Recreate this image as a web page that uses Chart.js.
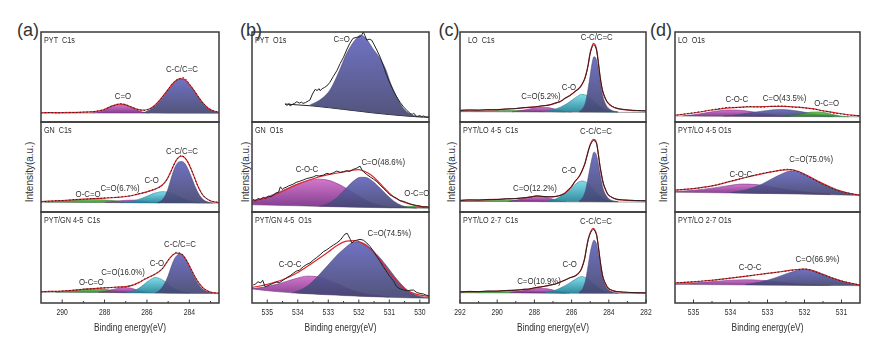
<!DOCTYPE html>
<html>
<head>
<meta charset="utf-8">
<script src="https://cdn.jsdelivr.net/npm/chart.js@4.4.1/dist/chart.umd.min.js"></script>
<style>
  body { margin: 0; background: #fff; width: 882px; height: 354px; position: relative; overflow: hidden;
         font-family: "Liberation Sans", Arial, sans-serif; color: #333; }
  canvas { position: absolute; }
  .letter { position: absolute; font-size: 18px; transform: translate(-50%, -50%); }
  .ytitle { position: absolute; font-size: 10px; white-space: nowrap; transform: translate(-50%, -50%) rotate(-90deg); }
</style>
</head>
<body>
<script>
// ---- (a) C1s : PYT / GN / PYT-GN 4-5   [binding energy eV, intensity a.u.]
const aTopRaw = [[291,10.0],[290.6,10.6],[290.2,10.1],[289.8,10.7],[289.4,10.5],[289,11.0],[288.6,11.2],[288.3,12.3],[288,14],[287.7,17.4],[287.4,19.5],[287.2,20.4],[287,19.2],[286.7,16.4],[286.4,13.8],[286.15,12.8],[285.95,13.9],[285.75,16],[285.55,20],[285.35,25.2],[285.15,31.6],[284.95,37.8],[284.75,43.8],[284.55,47.4],[284.4,48.6],[284.25,49.2],[284.1,45.6],[283.95,40.6],[283.75,34.2],[283.55,27.2],[283.35,21],[283.15,16.4],[282.95,13.2],[282.75,11.5],[282.6,11]];
const aTopFit = [[291,10.3],[290,10.4],[289,10.9],[288.5,11.6],[288.2,12.7],[287.9,15.2],[287.6,18.2],[287.3,19.8],[287.1,19.5],[286.8,17.2],[286.5,14.3],[286.2,13.1],[286,13.6],[285.8,15.6],[285.6,19.2],[285.4,24.2],[285.2,30.2],[285,36.2],[284.8,42.2],[284.6,46.6],[284.45,48],[284.3,47.9],[284.15,45.8],[284,41.8],[283.8,35.8],[283.6,28.8],[283.4,22.3],[283.2,17.3],[283,13.8],[282.8,11.8],[282.6,10.8]];
const aTopBg = [[291,10],[288,10],[285,9.8],[282.6,9.6]];
const aTopCO = [[288.6,10],[288.2,11.8],[287.9,14.5],[287.6,17.5],[287.3,19.3],[287.1,19.2],[286.8,17],[286.5,13.5],[286.2,11],[285.9,10]];
const aTopCC = [[286.2,10],[285.9,13],[285.6,18],[285.4,23],[285.2,29],[285,35.5],[284.8,41.5],[284.6,46],[284.45,47.5],[284.3,47.7],[284.15,45.5],[284,41.5],[283.8,35.5],[283.6,28.5],[283.4,22],[283.2,17],[283,13.5],[282.8,11.5],[282.6,10.5]];

const aMidRaw = [[291,11.3],[290.6,11.9],[290.2,12.7],[289.8,12.9],[289.4,13.9],[289,14.0],[288.6,14.9],[288.2,15.1],[287.8,15.9],[287.4,16.3],[287,17.4],[286.7,18.2],[286.4,20.4],[286.1,21.6],[285.8,24.1],[285.5,26.4],[285.3,29.2],[285.1,34.4],[284.95,40.5],[284.8,48.6],[284.65,56.2],[284.5,60.6],[284.38,62.8],[284.25,61.2],[284.1,56.8],[283.95,49.5],[283.8,40.8],[283.65,31.6],[283.5,24.2],[283.35,18.4],[283.15,14.2],[282.95,12],[282.6,10.6]];
const aMidFit = [[291,11.6],[290,12.8],[289,14.2],[288,15.4],[287.5,16.1],[287,17.2],[286.6,18.9],[286.3,20.6],[286,22.4],[285.7,24.6],[285.45,27.2],[285.25,30.5],[285.05,36.5],[284.9,43.5],[284.75,51.5],[284.6,58.2],[284.45,61.6],[284.35,62],[284.2,59.8],[284.05,54.6],[283.9,46.8],[283.75,37.8],[283.6,29],[283.45,22],[283.3,17],[283.1,13.5],[282.9,11.6],[282.6,10.5]];
const aMidBg = [[291,11],[288,10.5],[285,10],[282.6,9.8]];
const aMidOCO = [[290.8,11],[290,12.2],[289.3,13.2],[288.7,13.8],[288.1,13.5],[287.5,12.5],[286.9,11.2],[286.3,10.3]];
const aMidCO = [[288,10.5],[287.5,11.8],[287,13],[286.6,13.2],[286.2,12.2],[285.8,10.8],[285.4,10.2]];
const aMidCOx = [[287.2,10.2],[286.8,11.5],[286.4,14],[286,17.5],[285.7,20.5],[285.4,22.3],[285.2,22.6],[285,21.8],[284.7,19.5],[284.4,16],[284.1,13],[283.8,11],[283.5,10.2]];
const aMidCC = [[285.5,10.5],[285.3,13],[285.1,20],[284.95,30],[284.8,42],[284.65,51],[284.5,55.5],[284.35,56],[284.2,53.5],[284.05,47],[283.9,38.5],[283.75,29.5],[283.6,22],[283.45,16.5],[283.3,13],[283.1,11],[282.9,10]];

const aBotRaw = [[291,12.2],[290.6,12.8],[290.2,12.7],[289.8,13.6],[289.4,14.1],[289,15.2],[288.6,15.4],[288.2,16.6],[287.8,16.7],[287.4,17.6],[287,17.7],[286.7,19.5],[286.4,22],[286.1,26.6],[285.8,29.2],[285.5,33.8],[285.3,37],[285.1,43.4],[284.95,48.6],[284.8,52.4],[284.65,55.6],[284.5,55.2],[284.35,53.8],[284.2,49.4],[284.05,43.4],[283.9,36.2],[283.75,29.6],[283.55,22],[283.35,16.4],[283.15,13.4],[282.95,11.6],[282.6,10.9]];
const aBotFit = [[291,12.5],[290.5,12.7],[290,13.1],[289.5,13.9],[289,14.9],[288.5,15.9],[288,16.7],[287.5,17.3],[287,18],[286.7,19.3],[286.4,22.4],[286.1,26.1],[285.8,29.6],[285.5,33.2],[285.25,38.4],[285.05,45.2],[284.9,49.8],[284.75,53.2],[284.6,54.7],[284.45,54.3],[284.3,52.2],[284.15,47.4],[284,41],[283.85,34],[283.7,27.4],[283.5,20.4],[283.3,15.5],[283.1,12.9],[282.9,11.4],[282.6,10.8]];
const aBotBg = [[291,12],[288,11.5],[285,10.8],[282.6,10.3]];
const aBotOCO = [[290.3,12],[289.8,13],[289.3,14.5],[288.8,15.7],[288.5,16],[288.1,15.3],[287.6,13.8],[287.1,12.3],[286.7,11.5]];
const aBotCO = [[288.3,11.6],[287.9,13.2],[287.5,15.5],[287.15,17],[286.8,16.5],[286.5,14.5],[286.2,12.5],[285.9,11.3]];
const aBotCOx = [[287,11.2],[286.6,13.5],[286.3,17.5],[286,23],[285.75,27],[285.6,28],[285.4,27],[285.15,23.5],[284.9,18.5],[284.6,14.5],[284.3,12],[284,11]];
const aBotCC = [[285.6,11],[285.4,14],[285.2,20],[285,30],[284.85,40],[284.7,48.5],[284.55,53],[284.44,54],[284.3,52.5],[284.15,47],[284,40],[283.85,32.5],[283.7,25.5],[283.5,18.5],[283.3,14],[283.1,12],[282.9,10.8]];

// ---- (b) O1s : PYT / GN / PYT-GN 4-5
const bTopRaw = [[534.42,20],[534.35,18.5],[534.28,20.5],[534.25,17.8],[534.18,19.5],[534.1,20.8],[534.03,22.6],[533.95,21],[533.88,22],[533.83,20.7],[533.75,21.5],[533.65,23.5],[533.6,24.4],[533.52,31],[533.43,36.3],[533.37,35],[533.3,37],[533.27,34.8],[533.2,37],[533.12,38.5],[533.05,40],[532.95,44],[532.84,50.4],[532.72,57],[532.61,65],[532.5,72],[532.4,80],[532.3,87],[532.19,93],[532.08,94],[531.96,94.8],[531.9,97],[531.85,100],[531.8,96],[531.74,91],[531.66,92],[531.58,91],[531.5,86],[531.41,80],[531.3,72],[531.2,63],[531.1,53],[530.98,43],[530.87,35],[530.76,28],[530.65,22],[530.54,17],[530.43,13],[530.32,9.6],[530.25,8.5],[530.2,9.8],[530.1,5.9],[530,7.2],[529.95,6],[529.88,6.7],[529.8,5.5],[529.7,5.8]];
const bTopBg = [[534.42,20],[534,19],[533.5,17.8],[533,16],[532.5,14],[532,12],[531.5,10],[531,8.3],[530.5,6.8],[530,5.6],[529.7,5.2]];
const bTopCO = [[533.6,19],[533.3,24],[533,33],[532.84,42],[532.6,60],[532.4,76],[532.19,88],[532.05,94],[531.96,96.5],[531.85,95.5],[531.7,90],[531.55,82],[531.31,71],[531.1,57],[530.98,45],[530.76,28],[530.54,15],[530.32,9],[530.1,6.5],[529.9,5.6]];

const bMidRaw = [[535.47,14],[535.38,12.5],[535.3,15],[535.22,14],[535.13,16.3],[535.05,15],[534.97,17.5],[534.88,17],[534.8,18.9],[534.72,21],[534.63,22],[534.57,28],[534.5,25],[534.47,26.3],[534.38,27.5],[534.3,29],[534.22,30],[534.15,31],[534.05,33],[533.95,34],[533.82,35.6],[533.72,37],[533.6,38],[533.49,39],[533.4,40.5],[533.3,40],[533.16,41],[533.05,43],[532.95,42],[532.83,43.7],[532.72,45.5],[532.6,44],[532.5,44.8],[532.4,46],[532.3,45],[532.18,47.4],[532.08,48.5],[531.96,51],[531.9,47],[531.85,44.8],[531.75,42],[531.63,39],[531.52,36.5],[531.41,33.7],[531.3,30],[531.2,26.5],[531.08,22.6],[530.98,19],[530.87,17],[530.76,15.2],[530.65,12.5],[530.55,12],[530.43,10.4],[530.32,9],[530.2,8],[530.1,7.2],[529.99,6.7],[529.9,5.5],[529.8,5.8],[529.7,5.2]];
const bMidFit = [[535.5,12],[535,16],[534.5,23],[534,31],[533.5,37],[533,41.5],[532.5,44.5],[532.2,46.5],[532,47],[531.8,45],[531.6,41],[531.4,35],[531.2,28],[531,21],[530.8,15.5],[530.5,10.5],[530.2,7.5],[530,6.2],[529.7,5.5]];
const bMidBg = [[535.5,8],[534.5,7.3],[533.5,6.5],[532.5,5.6],[531.5,4.9],[530.5,4.4],[529.7,4.2]];
const bMidCOC = [[535.5,12.5],[535,17],[534.5,24],[534,31],[533.7,34.5],[533.4,36.5],[533.1,36],[532.8,33],[532.5,28],[532.2,22],[531.9,15.5],[531.6,10.5],[531.3,7.3],[531,5.6],[530.7,4.8]];
const bMidCO = [[533.3,6.3],[533,9.5],[532.7,16.5],[532.4,27],[532.15,35],[531.95,38.5],[531.8,38.5],[531.6,35.5],[531.35,28],[531.1,19.5],[530.85,12],[530.6,7.2],[530.35,5],[530.1,4.4]];
const bMidOCO = [[531,4.7],[530.7,5.6],[530.4,6.3],[530.1,6.1],[529.8,5.2],[529.7,4.9]];

const bBotRaw = [[535.46,19.8],[535.38,21],[535.3,23.4],[535.22,22],[535.15,25],[535.07,17.9],[534.98,19],[534.88,20.5],[534.8,21.6],[534.7,23],[534.6,22.5],[534.47,25.3],[534.35,28],[534.25,30],[534.15,32.6],[534.05,35],[533.95,36],[533.82,39.9],[533.7,42.5],[533.6,44],[533.49,47.2],[533.38,50],[533.27,53],[533.16,56.4],[533.05,58.5],[532.95,61],[532.83,63.7],[532.72,66],[532.61,69],[532.52,73],[532.45,75.8],[532.38,76.5],[532.34,74],[532.28,70],[532.23,66],[532.15,68],[532.07,69],[531.96,70],[531.85,69],[531.74,66],[531.63,62],[531.52,57],[531.41,51],[531.3,45.5],[531.2,40],[531.08,34],[530.98,29],[530.87,24.5],[530.76,18],[530.65,15.5],[530.54,14.5],[530.43,13.5],[530.32,14],[530.21,14.3],[530.1,11.5],[529.99,10.5],[529.88,9.9],[529.78,8.5],[529.7,8]];
const bBotFit = [[535.5,17],[535,20.5],[534.5,25.5],[534,33.5],[533.5,44.5],[533,56],[532.7,63.5],[532.4,68],[532.15,68.5],[531.9,66],[531.65,60],[531.4,51.5],[531.15,40.5],[530.9,29.5],[530.65,20],[530.4,13.5],[530.1,9.5],[529.7,7]];
const bBotBg = [[535.5,15.5],[535,13.5],[534.5,12],[534,10.8],[533.5,9.8],[533,9],[532.5,8.2],[532,7.5],[531.5,6.9],[531,6.3],[530.5,5.8],[530,5.4],[529.7,5.2]];
const bBotCOC = [[535.5,15.8],[535.1,17.5],[534.7,20.5],[534.3,24.5],[534,27.5],[533.7,29.5],[533.4,29],[533.1,26.5],[532.8,22.5],[532.5,18],[532.2,14],[531.9,11],[531.6,9],[531.3,7.6],[531,6.6]];
const bBotCO = [[534.2,11],[533.9,14.5],[533.6,21],[533.3,31],[533,42],[532.7,53],[532.45,60.5],[532.2,66.5],[532,67],[531.8,65],[531.55,58],[531.3,49.5],[531.05,39],[530.8,28],[530.55,18.5],[530.3,11.5],[530,7.5],[529.7,5.8]];

// ---- (c) C1s : LO / PYT-LO 4-5 / PYT-LO 2-7
const cTopRaw = [[292,12.8],[291.5,13.4],[291,13.1],[290.5,13.8],[290,13.6],[289.5,14.5],[289,14.8],[288.5,16.1],[288,16.6],[287.6,18],[287.2,18.8],[286.9,21],[286.6,22.6],[286.35,26.6],[286.1,29.2],[285.82,34],[285.6,37.2],[285.46,41.4],[285.3,47.4],[285.19,55.4],[285.1,64.2],[285.01,75.2],[284.92,82],[284.83,85.6],[284.74,84.6],[284.65,79],[284.56,65.4],[284.47,50.8],[284.38,39.4],[284.3,32.4],[284.15,24.8],[284.03,21],[283.8,17.2],[283.58,15.4],[283.3,14.2],[282.95,13.4],[282.5,12.8],[282,12.4]];
const cTopFit = [[292,13],[291,13.3],[290,13.8],[289.5,14.3],[289,15],[288.5,15.9],[288,16.8],[287.6,17.8],[287.2,19],[286.9,20.7],[286.6,23],[286.35,26.3],[286.1,29.5],[285.82,33.7],[285.6,37.5],[285.46,41],[285.3,48],[285.19,55.9],[285.1,65],[285.01,76.3],[284.92,83],[284.83,87.4],[284.74,86],[284.65,80],[284.56,66],[284.47,50.4],[284.38,39],[284.3,31.9],[284.15,24.5],[284.03,20.7],[283.8,17],[283.58,15.2],[283.3,14],[282.95,13.3],[282.5,12.6],[282,12.2]];
const cTopBg = [[292,11.5],[289,11.3],[286,11],[284,10.8],[282,10.5]];
const cTopOCO = [[292,11.8],[291,12.3],[290,12.7],[289,12.8],[288,12.3],[287,11.6],[286.3,11.1]];
const cTopCO = [[289.2,11.3],[288.7,12.8],[288.2,14.8],[287.8,16.1],[287.5,16.4],[287.2,15.8],[286.9,14.4],[286.6,12.8],[286.3,11.6],[286,11]];
const cTopCOx = [[287.6,11.3],[287.1,13],[286.6,16.5],[286.2,21],[285.9,25.5],[285.65,29],[285.46,30.7],[285.3,30.3],[285.1,28.5],[284.9,25],[284.7,21],[284.5,17.5],[284.3,14.8],[284.1,13],[283.8,11.6],[283.5,11]];
const cTopCC = [[285.6,11.5],[285.4,15],[285.25,22],[285.12,36],[285,52],[284.9,65],[284.8,72.5],[284.7,71],[284.6,63],[284.5,50],[284.4,37],[284.3,27],[284.15,19],[284,15],[283.8,12.5],[283.5,11.2]];

const cMidRaw = [[292,12.8],[291.5,13.5],[291,13.2],[290.5,14],[290,13.9],[289.5,14.7],[289,14.9],[288.5,16],[288.2,16.6],[287.9,17.9],[287.6,17.3],[287.25,17],[287,16.8],[286.71,18],[286.4,20.2],[286.18,24.6],[286,28.2],[285.82,34],[285.6,39.2],[285.46,45],[285.3,52.6],[285.19,60.8],[285.1,67.6],[285.01,73.6],[284.92,77.4],[284.83,79.4],[284.74,78.8],[284.65,75.4],[284.56,63.6],[284.47,50.6],[284.38,40.2],[284.3,32.2],[284.15,23.8],[284.03,19.2],[283.8,16],[283.58,14.3],[283.2,13.4],[282.6,12.8],[282,12.5]];
const cMidFit = [[292,13],[291,13.4],[290,14],[289.5,14.5],[289,15],[288.5,15.8],[288.2,16.8],[287.9,17.6],[287.6,17.5],[287.25,16.8],[287,17],[286.71,17.8],[286.4,20.5],[286.18,24.4],[286,28.5],[285.82,33.7],[285.6,39.5],[285.46,44.8],[285.3,53],[285.19,61.4],[285.1,68.5],[285.01,74.4],[284.92,78.5],[284.83,80.7],[284.74,80],[284.65,76.3],[284.56,64],[284.47,50.4],[284.38,40],[284.3,31.9],[284.15,23.5],[284.03,18.9],[283.8,15.8],[283.58,14.1],[283.2,13.2],[282.6,12.6],[282,12.4]];
const cMidBg = [[292,11.8],[289,11.6],[286,11.3],[284,11.1],[282,11]];
const cMidOCO = [[292,12],[291,12.6],[290,13],[289,13],[288,12.5],[287,11.8]];
const cMidCO = [[289.4,11.8],[288.9,13.5],[288.5,15.6],[288.1,17.2],[287.8,17.6],[287.5,17],[287.2,15.4],[286.9,13.6],[286.6,12.3],[286.3,11.5]];
const cMidCOx = [[287.4,11.8],[286.9,14.2],[286.5,18.5],[286.2,23.5],[285.9,29],[285.65,33],[285.46,34.4],[285.3,34],[285.1,31.5],[284.9,27],[284.7,22],[284.5,18],[284.3,15],[284.1,13.2],[283.8,11.8],[283.5,11.3]];
const cMidCC = [[285.6,12],[285.4,16],[285.25,24],[285.12,37],[285,50],[284.9,60],[284.8,66.5],[284.7,65],[284.6,57.5],[284.5,46],[284.4,34.5],[284.3,25.5],[284.15,18.5],[284,14.8],[283.8,12.6],[283.5,11.5]];

const cBotRaw = [[292,12.1],[291.5,12.8],[291,12.5],[290.5,13.2],[290,13],[289.5,13.8],[289,14],[288.5,15.2],[288.33,15.1],[288,16.7],[287.61,17.7],[287.2,19.6],[286.89,20.7],[286.6,23.2],[286.35,25.1],[286.1,27.8],[285.82,29.5],[285.6,33.4],[285.46,37.8],[285.3,48.4],[285.19,61],[285.1,70],[285.01,75.6],[284.92,79.4],[284.83,80.8],[284.74,79],[284.65,74],[284.56,61.6],[284.47,47.4],[284.38,35.2],[284.3,27.4],[284.15,20.2],[284.03,16.4],[283.8,13.8],[283.58,12.6],[283.2,12],[282.6,11.4],[282,11.2]];
const cBotFit = [[292,12.3],[291,12.6],[290,13.1],[289.5,13.6],[289,14.2],[288.5,15],[288.33,15.3],[288,16.5],[287.61,17.9],[287.2,19.3],[286.89,20.9],[286.6,23],[286.35,25.3],[286.1,27.5],[285.82,29.7],[285.6,33],[285.46,38.1],[285.3,49],[285.19,61.9],[285.1,71],[285.01,76.6],[284.92,80.5],[284.83,82],[284.74,80],[284.65,74.7],[284.56,62],[284.47,47.3],[284.38,35],[284.3,27.1],[284.15,20],[284.03,16.1],[283.8,13.6],[283.58,12.4],[283.2,11.8],[282.6,11.3],[282,11.1]];
const cBotBg = [[292,11.3],[289,11.1],[286,10.8],[284,10.6],[282,10.4]];
const cBotOCO = [[292,11.5],[291,12],[290,12.4],[289,12.6],[288,12.2],[287,11.5],[286.3,11]];
const cBotCO = [[289.3,11.6],[288.8,13],[288.3,14.8],[287.9,16],[287.6,16.2],[287.3,15.6],[287,14.3],[286.7,12.8],[286.4,11.7],[286.1,11]];
const cBotCOx = [[287.4,11.5],[286.9,13.8],[286.5,17.5],[286.1,22],[285.8,26],[285.6,28.3],[285.46,29],[285.3,28.4],[285.1,26],[284.9,22.5],[284.7,19],[284.5,16],[284.3,13.6],[284.1,12.2],[283.8,11.2]];
const cBotCC = [[285.6,11.8],[285.4,16],[285.25,25],[285.12,40],[285,55],[284.9,64],[284.8,69],[284.7,67],[284.6,59],[284.5,47],[284.4,35],[284.3,25.5],[284.15,18],[284,14.3],[283.8,12.2],[283.5,11]];

// ---- (d) O1s : LO / PYT-LO 4-5 / PYT-LO 2-7
const dTopRaw = [[535.45,7.8],[535.3,8.5],[535.14,9.6],[535,10.2],[534.9,11],[534.78,11.5],[534.6,12.8],[534.42,14.1],[534.25,15.2],[534.06,16.3],[533.9,16],[533.7,16.3],[533.55,17.2],[533.34,17],[533.15,16.4],[532.98,17],[532.8,17.5],[532.62,17.8],[532.45,17.3],[532.26,16.3],[532.1,16.5],[531.9,15.2],[531.7,14],[531.54,12.6],[531.35,11.5],[531.18,9.6],[531,9],[530.82,7.8],[530.65,7.2],[530.5,6.7]];
const dTopFit = [[535.5,7.5],[535,10],[534.5,13.3],[534,15.8],[533.5,16.8],[533,17.2],[532.6,17.4],[532.2,16.6],[531.8,14.8],[531.4,11.8],[531,9.2],[530.7,7.6],[530.5,7]];
const dTopBg = [[535.5,6.8],[534,6.3],[532.5,6],[531,5.8],[530.5,5.8]];
const dTopCOC = [[535.3,6.8],[535,8],[534.7,10],[534.4,12],[534.1,13.2],[533.9,13.3],[533.6,12.4],[533.3,10.6],[533,8.6],[532.7,7],[532.4,6.2]];
const dTopCO = [[534.2,6.4],[533.8,8],[533.4,10.6],[533,12.8],[532.7,13.8],[532.4,13.3],[532.1,11.6],[531.8,9.4],[531.5,7.4],[531.2,6.2]];
const dTopOCO = [[532.6,6],[532.3,7.3],[532,9.6],[531.8,11],[531.6,11.2],[531.4,10],[531.2,8],[531,6.5],[530.8,5.9]];

const dMidRaw = [[535.45,24.4],[535.3,25],[535.14,25.6],[535,26],[534.78,27],[534.6,28.3],[534.42,29.6],[534.25,31.5],[534.06,33.7],[533.88,35.5],[533.7,37.4],[533.52,39.2],[533.34,41.1],[533.16,42.7],[532.98,44.1],[532.8,45.2],[532.62,46.7],[532.48,47.5],[532.35,46.7],[532.2,45.2],[532.08,43],[531.9,39.5],[531.72,35.6],[531.54,31.5],[531.36,28.1],[531.18,25],[531,22.6],[530.82,21],[530.64,19.6],[530.5,18.5]];
const dMidFit = [[535.5,24.2],[535,26],[534.5,29],[534,34],[533.5,39.2],[533,43.8],[532.6,46.6],[532.4,47],[532.2,45.5],[531.9,40],[531.6,33.5],[531.3,27.8],[531,23],[530.7,20],[530.5,18.6]];
const dMidBg = [[535.5,22],[534,21.2],[532.5,20.2],[531,19],[530.5,18.5]];
const dMidCOC = [[535.5,22.8],[535,24.2],[534.5,26.5],[534.1,29],[533.7,31],[533.3,30.5],[532.9,28],[532.5,25],[532.1,22.8],[531.7,21.2],[531.3,20]];
const dMidCO = [[534,21.6],[533.6,24.5],[533.2,30],[532.9,36.5],[532.6,42.5],[532.38,45.5],[532.15,44.5],[531.9,40],[531.6,33.5],[531.3,27.5],[531,23],[530.7,20.2],[530.5,19]];

const dBotRaw = [[535.45,22.3],[535.3,22.5],[535.14,23.1],[534.96,23.6],[534.78,24.2],[534.6,24.8],[534.42,25.3],[534.24,26.2],[534.06,27.1],[533.88,28],[533.7,28.9],[533.52,29.9],[533.34,30.8],[533.16,31.7],[532.98,32.6],[532.8,33.5],[532.62,34.4],[532.44,35.3],[532.26,36.3],[532.1,37],[531.99,37.4],[531.85,36.5],[531.72,34.4],[531.54,31.6],[531.36,28.9],[531.18,26.5],[531,24.2],[530.82,22.5],[530.64,20.9],[530.5,19.8]];
const dBotFit = [[535.5,22],[535,23.3],[534.5,25],[534,27.3],[533.5,29.9],[533,32.5],[532.6,34.6],[532.3,36.3],[532.05,37.2],[531.8,35.8],[531.5,31.2],[531.2,26.6],[530.9,23],[530.6,20.6],[530.5,19.9]];
const dBotBg = [[535.5,20.5],[534,20],[532.5,19.6],[531,19.2],[530.5,19]];
const dBotCOC = [[535.5,21],[535,22],[534.5,23.5],[534,25],[533.6,25.5],[533.2,25],[532.8,23.6],[532.4,22],[532,20.6],[531.6,19.7],[531.3,19.3]];
const dBotCO = [[533.6,20.2],[533.2,23],[532.8,27.5],[532.5,32],[532.2,35.6],[532,37],[531.75,35.4],[531.45,31],[531.15,26.3],[530.85,22.5],[530.6,20.2],[530.5,19.6]];

// tick labels (major) and minor tick positions
const ticksA = [290, 288, 286, 284], minorA = [289, 287, 285, 283];
const ticksB = [535, 534, 533, 532, 531, 530], minorB = [534.5, 533.5, 532.5, 531.5, 530.5];
const ticksC = [292, 290, 288, 286, 284, 282], minorC = [291, 289, 287, 285, 283];
const ticksD = [535, 534, 533, 532, 531], minorD = [534.5, 533.5, 532.5, 531.5];

// peak annotations: [text, eV, intensity]
const aTopNotes = [['C=O', 287.13, 28], ['C-C/C=C', 284.35, 58.5]];
const aMidNotes = [['C-C/C=C', 284.35, 67], ['C-O', 285.78, 34.4], ['C=O(6.7%)', 287.27, 26.3], ['O-C=O', 288.78, 18.9]];
const aBotNotes = [['C-C/C=C', 284.44, 63.7], ['C-O', 285.53, 42.9], ['C=O(16.0%)', 287.13, 33.3], ['O-C=O', 288.62, 22.7]];
const bTopNotes = [['C=O', 532.56, 91]];
const bMidNotes = [['C-O-C', 533.7, 46.7], ['C=O(48.6%)', 531.2, 54.8], ['O-C=O', 530.1, 20.7]];
const bBotNotes = [['C=O(74.5%)', 531.0, 75.8], ['C-O-C', 534.25, 41.8]];
const cTopNotes = [['C-C/C=C', 284.65, 93.7], ['C-O', 286.14, 38.1], ['C=O(5.2%)', 287.65, 28.1]];
const cMidNotes = [['C-C/C=C', 284.69, 89.2], ['C-O', 286.14, 45.6], ['C=O(12.2%)', 287.97, 26.3]];
const cBotNotes = [['C-C/C=C', 284.69, 89.3], ['C-O', 286.1, 41.8], ['C=O(10.9%)', 287.75, 23.4]];
const dTopNotes = [['C-O-C', 533.83, 25.2], ['C=O(43.5%)', 532.54, 26.3], ['O-C=O', 531.4, 20]];
const dMidNotes = [['C-O-C', 533.72, 41.9], ['C=O(75.0%)', 531.82, 57.8]];
const dBotNotes = [['C-O-C', 533.47, 38.8], ['C=O(66.9%)', 531.65, 47.3]];

// layout
const panels = [
  {left: 41, width: 178, xmin: 282.6, xmax: 291, ticks: ticksA, minor: minorA, letter: '(a)', lx: 28, ty: 29, dotted: true},
  {left: 252, width: 177, xmin: 529.7, xmax: 535.5, ticks: ticksB, minor: minorB, letter: '(b)', lx: 251, ty: 245, dotted: false},
  {left: 460, width: 186, xmin: 282, xmax: 292, ticks: ticksC, minor: minorC, letter: '(c)', lx: 449, ty: 451, dotted: false},
  {left: 675, width: 185, xmin: 530.5, xmax: 535.5, ticks: ticksD, minor: minorD, letter: '(d)', lx: 661, ty: 663, dotted: true}
];
const rows = [{top: 32, height: 90}, {top: 122, height: 90}, {top: 212, height: 91}];

const colors = {
  blue:    ['rgba(100,102,190,0.92)', 'rgba(68,70,112,0.92)'],
  magenta: ['rgba(205,100,195,0.88)', 'rgba(115,40,130,0.9)'],
  cyan:    ['rgba(110,215,232,0.88)', 'rgba(30,128,148,0.9)'],
  green:   ['rgba(105,200,70,0.88)', 'rgba(40,118,48,0.9)']
};

const subplots = [
  {p: 0, r: 0, name: 'PYT  C1s', raw: aTopRaw, fit: aTopFit, bg: aTopBg, comps: [[aTopCC, 'blue'], [aTopCO, 'magenta']], notes: aTopNotes},
  {p: 0, r: 1, name: 'GN  C1s', raw: aMidRaw, fit: aMidFit, bg: aMidBg, comps: [[aMidCC, 'blue'], [aMidCOx, 'cyan'], [aMidCO, 'magenta'], [aMidOCO, 'green']], notes: aMidNotes},
  {p: 0, r: 2, name: 'PYT/GN 4-5  C1s', raw: aBotRaw, fit: aBotFit, bg: aBotBg, comps: [[aBotCC, 'blue'], [aBotCOx, 'cyan'], [aBotCO, 'magenta'], [aBotOCO, 'green']], notes: aBotNotes},
  {p: 1, r: 0, name: 'PYT  O1s', raw: bTopRaw, fit: null, bg: bTopBg, comps: [[bTopCO, 'blue']], notes: bTopNotes},
  {p: 1, r: 1, name: 'GN  O1s', raw: bMidRaw, fit: bMidFit, bg: bMidBg, comps: [[bMidCO, 'blue'], [bMidCOC, 'magenta'], [bMidOCO, 'green']], notes: bMidNotes},
  {p: 1, r: 2, name: 'PYT/GN 4-5  O1s', raw: bBotRaw, fit: bBotFit, bg: bBotBg, comps: [[bBotCO, 'blue'], [bBotCOC, 'magenta']], notes: bBotNotes},
  {p: 2, r: 0, name: 'LO  C1s', raw: cTopRaw, fit: cTopFit, bg: cTopBg, comps: [[cTopCC, 'blue'], [cTopCOx, 'cyan'], [cTopCO, 'magenta'], [cTopOCO, 'green']], notes: cTopNotes, indent: 8},
  {p: 2, r: 1, name: 'PYT/LO 4-5  C1s', raw: cMidRaw, fit: cMidFit, bg: cMidBg, comps: [[cMidCC, 'blue'], [cMidCOx, 'cyan'], [cMidCO, 'magenta'], [cMidOCO, 'green']], notes: cMidNotes},
  {p: 2, r: 2, name: 'PYT/LO 2-7  C1s', raw: cBotRaw, fit: cBotFit, bg: cBotBg, comps: [[cBotCC, 'blue'], [cBotCOx, 'cyan'], [cBotCO, 'magenta'], [cBotOCO, 'green']], notes: cBotNotes},
  {p: 3, r: 0, name: 'LO  O1s', raw: dTopRaw, fit: dTopFit, bg: dTopBg, comps: [[dTopOCO, 'green'], [dTopCO, 'blue'], [dTopCOC, 'magenta']], notes: dTopNotes},
  {p: 3, r: 1, name: 'PYT/LO 4-5 O1s', raw: dMidRaw, fit: dMidFit, bg: dMidBg, comps: [[dMidCO, 'blue'], [dMidCOC, 'magenta']], notes: dMidNotes},
  {p: 3, r: 2, name: 'PYT/LO 2-7 O1s', raw: dBotRaw, fit: dBotFit, bg: dBotBg, comps: [[dBotCO, 'blue'], [dBotCOC, 'magenta']], notes: dBotNotes}
];

const FONT = '"Liberation Sans", Arial, sans-serif';
function drawText(ctx, text, x, y, size, align, sx) {
  ctx.save();
  ctx.translate(x, y);
  ctx.scale(sx, 1);
  ctx.font = size + 'px ' + FONT;
  ctx.fillStyle = '#2e2e2e';
  ctx.textAlign = align;
  ctx.textBaseline = 'middle';
  ctx.fillText(text, 0, 0);
  ctx.restore();
}

// box, labels, inward ticks drawn through the chart's own scales
const decor = {
  id: 'decor',
  afterDraw(chart, args, o) {
    const {ctx, chartArea: a} = chart;
    const x = chart.scales.x, y = chart.scales.y;
    ctx.save();
    ctx.strokeStyle = '#3a3a3a';
    ctx.lineWidth = 1.5;
    ctx.strokeRect(a.left, a.top, a.right - a.left, a.bottom - a.top);
    drawText(ctx, o.name, a.left + o.indent, a.top + 8.5, 8.5, 'left', 0.85);
    o.notes.forEach(n => drawText(ctx, n[0], x.getPixelForValue(n[1]), y.getPixelForValue(n[2]), 8.5, 'center', 0.92));
    if (o.bottom) {
      ctx.lineWidth = 1;
      ctx.beginPath();
      o.ticks.forEach(v => { const px = x.getPixelForValue(v); ctx.moveTo(px, a.bottom); ctx.lineTo(px, a.bottom - 3.5); });
      o.minor.forEach(v => { const px = x.getPixelForValue(v); ctx.moveTo(px, a.bottom); ctx.lineTo(px, a.bottom - 2); });
      ctx.stroke();
      o.ticks.forEach(v => drawText(ctx, String(v), x.getPixelForValue(v), a.bottom + 10, 8.5, 'center', 0.8));
      drawText(ctx, 'Binding energy(eV)', (a.left + a.right) / 2, a.bottom + 25.5, 10.5, 'center', 0.8);
    }
    ctx.restore();
  }
};

function gradFill(pair, arr) {
  const vals = arr.map(p => p[1]);
  const hi = Math.max(...vals), lo = Math.min(...vals);
  return (c) => {
    const ch = c.chart;
    if (!ch.chartArea) return pair[0];
    const yS = ch.scales.y;
    const g = ch.ctx.createLinearGradient(0, yS.getPixelForValue(hi), 0, yS.getPixelForValue(lo));
    g.addColorStop(0, pair[0]);
    g.addColorStop(1, pair[1]);
    return g;
  };
}

const toXY = arr => arr.map(p => ({x: p[0], y: p[1]}));
const PADX = 16;

panels.forEach(p => {
  const l = document.createElement('div');
  l.className = 'letter'; l.textContent = p.letter;
  l.style.left = p.lx + 'px'; l.style.top = '30px';
  document.body.appendChild(l);
  const t = document.createElement('div');
  t.className = 'ytitle'; t.textContent = 'Intensity(a.u.)';
  t.style.left = p.ty + 'px'; t.style.top = '172px';
  document.body.appendChild(t);
});

subplots.forEach(s => {
  const p = panels[s.p], r = rows[s.r];
  const bottom = s.r === 2;
  const padB = bottom ? 40 : 4;
  const cv = document.createElement('canvas');
  cv.width = p.width + 2 * PADX;
  cv.height = r.height + 4 + padB;
  cv.style.left = (p.left - PADX) + 'px';
  cv.style.top = (r.top - 4) + 'px';
  document.body.appendChild(cv);

  const datasets = [];
  datasets.push({data: toXY(s.raw), borderColor: '#222', borderWidth: 1, borderDash: p.dotted ? [1.5, 2] : [],
    tension: s.p === 1 ? 0 : 0.3, fill: false});
  if (s.fit) datasets.push({data: toXY(s.fit), borderColor: '#e4262c', borderWidth: 1.2, tension: 0.4,
    cubicInterpolationMode: 'monotone', fill: false});
  const bgIndex = datasets.length + s.comps.length;
  s.comps.forEach(c => datasets.push({data: toXY(c[0]), borderColor: colors[c[1]][1], borderWidth: 0.6,
    backgroundColor: gradFill(colors[c[1]], c[0]), fill: bgIndex, tension: 0.4, cubicInterpolationMode: 'monotone'}));
  datasets.push({data: toXY(s.bg), borderColor: s.p === 1 && s.r === 0 ? '#222' : '#8a8a8a',
    borderWidth: s.p === 1 && s.r === 0 ? 1 : 0.8, tension: 0.4, cubicInterpolationMode: 'monotone', fill: false});

  new Chart(cv, {
    type: 'line',
    data: {datasets},
    options: {
      responsive: false,
      animation: false,
      events: [],
      layout: {padding: {left: PADX, right: PADX, top: 4, bottom: padB}},
      elements: {point: {radius: 0}},
      scales: {
        x: {type: 'linear', reverse: true, min: p.xmin, max: p.xmax, display: false},
        y: {type: 'linear', min: 0, max: 100, display: false}
      },
      plugins: {
        legend: {display: false},
        tooltip: {enabled: false},
        decor: {name: s.name, notes: s.notes, indent: s.indent || 3, bottom, ticks: p.ticks, minor: p.minor}
      }
    },
    plugins: [decor]
  });
});
</script>
</body>
</html>
